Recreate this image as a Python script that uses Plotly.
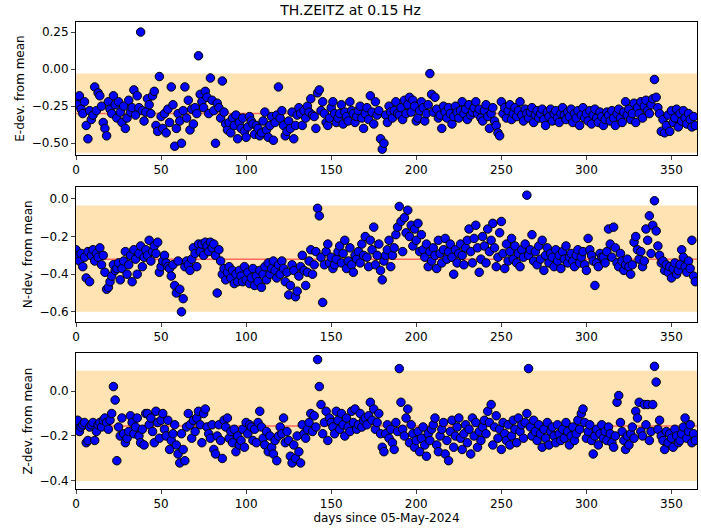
import plotly.graph_objects as go

E = [-0.20,-0.24,-0.18,-0.27,-0.30,-0.22,-0.38,-0.47,-0.28,-0.34,
-0.31,-0.12,-0.28,-0.16,-0.18,-0.25,-0.36,-0.40,-0.45,-0.22,
-0.27,-0.30,-0.18,-0.24,-0.33,-0.22,-0.29,-0.36,-0.25,-0.40,
-0.33,-0.21,-0.29,-0.26,-0.14,-0.31,-0.18,-0.26,0.25,-0.28,
-0.35,-0.29,-0.20,-0.24,-0.30,-0.18,-0.15,-0.38,-0.42,-0.05,
-0.32,-0.40,-0.30,-0.43,-0.27,-0.36,-0.12,-0.24,-0.52,-0.40,
-0.30,-0.35,-0.50,-0.28,-0.12,-0.33,-0.21,-0.41,-0.27,-0.37,
-0.26,-0.30,0.09,-0.17,-0.22,-0.26,-0.15,-0.19,-0.30,-0.06,
-0.21,-0.28,-0.50,-0.23,-0.26,-0.33,-0.08,-0.29,-0.37,-0.41,
-0.36,-0.43,-0.33,-0.38,-0.31,-0.47,-0.36,-0.40,-0.33,-0.42,
-0.46,-0.39,-0.32,-0.35,-0.37,-0.44,-0.38,-0.40,-0.45,-0.43,
-0.35,-0.29,-0.41,-0.46,-0.38,-0.32,-0.48,-0.36,-0.31,-0.12,
-0.33,-0.28,-0.38,-0.45,-0.42,-0.35,-0.40,-0.29,-0.47,-0.38,
-0.31,-0.26,-0.30,-0.38,-0.28,-0.33,-0.25,-0.29,-0.20,-0.31,
-0.32,-0.40,-0.16,-0.14,-0.28,-0.22,-0.30,-0.36,-0.38,-0.33,
-0.26,-0.22,-0.30,-0.36,-0.33,-0.30,-0.24,-0.37,-0.29,-0.32,
-0.35,-0.22,-0.28,-0.30,-0.36,-0.32,-0.28,-0.25,-0.33,-0.40,
-0.30,-0.26,-0.34,-0.18,-0.29,-0.37,-0.22,-0.31,-0.28,-0.47,
-0.54,-0.50,-0.31,-0.36,-0.25,-0.29,-0.33,-0.28,-0.22,-0.30,
-0.31,-0.26,-0.34,-0.21,-0.30,-0.24,-0.19,-0.29,-0.21,-0.25,
-0.35,-0.33,-0.28,-0.22,-0.26,-0.35,-0.30,-0.24,-0.03,-0.17,
-0.29,-0.19,-0.27,-0.33,-0.31,-0.40,-0.25,-0.29,-0.33,-0.26,
-0.30,-0.37,-0.32,-0.25,-0.29,-0.33,-0.28,-0.22,-0.30,-0.27,
-0.34,-0.24,-0.31,-0.29,-0.26,-0.22,-0.30,-0.27,-0.33,-0.35,
-0.28,-0.24,-0.32,-0.40,-0.30,-0.26,-0.35,-0.38,-0.43,-0.45,
-0.22,-0.30,-0.26,-0.33,-0.28,-0.24,-0.34,-0.30,-0.26,-0.32,
-0.28,-0.22,-0.31,-0.35,-0.27,-0.30,-0.33,-0.29,-0.26,-0.36,
-0.31,-0.28,-0.33,-0.30,-0.27,-0.34,-0.38,-0.29,-0.32,-0.27,
-0.35,-0.30,-0.28,-0.33,-0.36,-0.30,-0.26,-0.31,-0.34,-0.29,
-0.32,-0.27,-0.36,-0.30,-0.33,-0.28,-0.38,-0.31,-0.26,-0.33,
-0.30,-0.35,-0.28,-0.37,-0.31,-0.27,-0.33,-0.36,-0.29,-0.32,
-0.38,-0.34,-0.29,-0.31,-0.35,-0.28,-0.33,-0.38,-0.30,-0.27,
-0.33,-0.36,-0.29,-0.22,-0.31,-0.27,-0.34,-0.30,-0.23,-0.36,
-0.26,-0.30,-0.22,-0.33,-0.25,-0.21,-0.28,-0.30,-0.24,-0.20,
-0.07,-0.19,-0.26,-0.30,-0.42,-0.34,-0.43,-0.38,-0.31,-0.42,
-0.28,-0.36,-0.33,-0.27,-0.39,-0.30,-0.35,-0.28,-0.33,-0.37,
-0.30,-0.34,-0.39,-0.32,-0.38]

N = [-0.27,-0.30,-0.33,-0.29,-0.36,-0.31,-0.42,-0.28,-0.44,-0.30,
-0.27,-0.33,-0.29,-0.31,-0.26,-0.35,-0.30,-0.39,-0.48,-0.47,
-0.44,-0.41,-0.35,-0.38,-0.37,-0.34,-0.43,-0.37,-0.33,-0.28,
-0.40,-0.35,-0.30,-0.44,-0.27,-0.32,-0.40,-0.29,-0.25,-0.36,
-0.31,-0.27,-0.30,-0.22,-0.33,-0.28,-0.25,-0.29,-0.23,-0.39,
-0.36,-0.33,-0.30,-0.34,-0.36,-0.37,-0.41,-0.35,-0.46,-0.50,
-0.33,-0.48,-0.60,-0.53,-0.36,-0.33,-0.35,-0.38,-0.32,-0.26,
-0.29,-0.36,-0.24,-0.28,-0.24,-0.30,-0.23,-0.25,-0.28,-0.23,
-0.26,-0.24,-0.30,-0.50,-0.27,-0.33,-0.40,-0.37,-0.43,-0.39,
-0.36,-0.42,-0.38,-0.45,-0.40,-0.44,-0.38,-0.41,-0.44,-0.36,
-0.43,-0.39,-0.45,-0.42,-0.37,-0.46,-0.41,-0.44,-0.38,-0.47,
-0.40,-0.36,-0.43,-0.34,-0.40,-0.37,-0.33,-0.38,-0.42,-0.35,
-0.40,-0.33,-0.37,-0.44,-0.39,-0.51,-0.46,-0.35,-0.38,-0.52,
-0.49,-0.41,-0.36,-0.30,-0.38,-0.46,-0.39,-0.33,-0.27,-0.40,
-0.35,-0.28,-0.05,-0.09,-0.31,-0.55,-0.35,-0.28,-0.24,-0.34,
-0.31,-0.37,-0.35,-0.32,-0.28,-0.25,-0.34,-0.29,-0.22,-0.37,
-0.33,-0.26,-0.35,-0.39,-0.30,-0.32,-0.28,-0.34,-0.24,-0.30,
-0.20,-0.31,-0.36,-0.22,-0.27,-0.15,-0.35,-0.30,-0.24,-0.38,
-0.43,-0.33,-0.30,-0.27,-0.22,-0.36,-0.30,-0.26,-0.19,-0.15,
-0.04,-0.12,-0.28,-0.10,-0.18,-0.06,-0.20,-0.14,-0.25,-0.16,
-0.22,-0.13,-0.28,-0.19,-0.27,-0.31,-0.24,-0.36,-0.28,-0.33,
-0.26,-0.30,-0.37,-0.22,-0.29,-0.34,-0.27,-0.21,-0.32,-0.28,
-0.24,-0.31,-0.40,-0.27,-0.34,-0.29,-0.24,-0.30,-0.35,-0.26,
-0.22,-0.16,-0.28,-0.34,-0.21,-0.14,-0.26,-0.39,-0.32,-0.20,
-0.25,-0.34,-0.16,-0.28,-0.22,-0.13,-0.26,-0.36,-0.31,-0.18,
-0.12,-0.29,-0.37,-0.24,-0.33,-0.28,-0.21,-0.32,-0.25,-0.34,
-0.29,-0.36,-0.27,-0.31,-0.24,0.02,-0.30,-0.27,-0.19,-0.33,
-0.28,-0.35,-0.25,-0.32,-0.22,-0.38,-0.30,-0.26,-0.34,-0.29,
-0.31,-0.36,-0.27,-0.33,-0.30,-0.37,-0.28,-0.32,-0.25,-0.34,
-0.31,-0.29,-0.33,-0.36,-0.30,-0.27,-0.34,-0.31,-0.28,-0.35,
-0.38,-0.21,-0.27,-0.30,-0.33,-0.46,-0.34,-0.36,-0.29,-0.31,
-0.31,-0.34,-0.28,-0.16,-0.24,-0.31,-0.15,-0.26,-0.34,-0.36,
-0.29,-0.33,-0.38,-0.35,-0.32,-0.36,-0.40,-0.35,-0.23,-0.20,
-0.27,-0.32,-0.28,-0.36,-0.33,-0.16,-0.22,-0.09,-0.29,-0.14,
-0.01,-0.17,-0.25,-0.30,-0.34,-0.33,-0.38,-0.35,-0.39,-0.36,
-0.42,-0.37,-0.34,-0.40,-0.38,-0.35,-0.27,-0.31,-0.36,-0.39,
-0.33,-0.37,-0.22,-0.41,-0.44]

Z = [-0.15,-0.13,-0.18,-0.16,-0.15,-0.14,-0.23,-0.22,-0.16,-0.15,
-0.14,-0.22,-0.18,-0.15,-0.14,-0.16,-0.13,-0.12,-0.14,-0.17,
-0.13,-0.10,0.02,-0.04,-0.31,-0.16,-0.20,-0.12,-0.19,-0.23,
-0.21,-0.18,-0.11,-0.14,-0.19,-0.16,-0.12,-0.20,-0.23,-0.17,
-0.24,-0.10,-0.10,-0.15,-0.12,-0.18,-0.23,-0.09,-0.14,-0.21,
-0.13,-0.10,-0.17,-0.20,-0.13,-0.26,-0.22,-0.19,-0.15,-0.24,
-0.28,-0.32,-0.19,-0.26,-0.31,-0.16,-0.10,-0.15,-0.21,-0.13,
-0.18,-0.12,-0.09,-0.15,-0.23,-0.10,-0.08,-0.16,-0.19,-0.21,
-0.15,-0.26,-0.28,-0.20,-0.15,-0.22,-0.30,-0.13,-0.16,-0.12,
-0.21,-0.18,-0.23,-0.17,-0.27,-0.20,-0.24,-0.22,-0.17,-0.25,
-0.14,-0.19,-0.15,-0.16,-0.22,-0.17,-0.23,-0.14,-0.09,-0.16,
-0.21,-0.24,-0.18,-0.27,-0.20,-0.25,-0.28,-0.22,-0.31,-0.20,
-0.16,-0.19,-0.12,-0.23,-0.18,-0.22,-0.29,-0.32,-0.24,-0.30,
-0.20,-0.27,-0.32,-0.15,-0.19,-0.21,-0.17,-0.14,-0.10,-0.18,
-0.11,-0.16,0.14,0.02,-0.06,-0.19,-0.14,-0.09,-0.22,-0.12,
-0.14,-0.16,-0.19,-0.09,-0.13,-0.17,-0.10,-0.15,-0.20,-0.12,
-0.16,-0.18,-0.09,-0.14,-0.08,-0.17,-0.15,-0.10,-0.16,-0.13,
-0.12,-0.15,-0.11,-0.05,-0.13,-0.08,-0.17,-0.14,-0.10,-0.19,
-0.25,-0.27,-0.19,-0.15,-0.21,-0.17,-0.23,-0.26,-0.14,-0.18,
0.10,-0.05,-0.17,-0.20,-0.12,-0.08,-0.23,-0.15,-0.19,-0.25,
-0.22,-0.18,-0.27,-0.21,-0.16,-0.24,-0.29,-0.19,-0.22,-0.17,
-0.15,-0.12,-0.24,-0.27,-0.20,-0.17,-0.14,-0.28,-0.22,-0.31,
-0.18,-0.13,-0.25,-0.20,-0.16,-0.12,-0.21,-0.26,-0.19,-0.15,
-0.23,-0.17,-0.28,-0.12,-0.20,-0.14,-0.25,-0.18,-0.22,-0.16,
-0.13,-0.19,-0.09,-0.14,-0.06,-0.24,-0.16,-0.11,-0.21,-0.17,
-0.26,-0.14,-0.19,-0.22,-0.15,-0.24,-0.20,-0.13,-0.17,-0.23,
-0.12,-0.18,-0.15,-0.21,-0.14,-0.10,0.10,-0.16,-0.20,-0.13,
-0.18,-0.22,-0.15,-0.19,-0.25,-0.17,-0.21,-0.14,-0.24,-0.18,
-0.16,-0.20,-0.23,-0.15,-0.19,-0.22,-0.17,-0.21,-0.14,-0.18,
-0.24,-0.20,-0.16,-0.22,-0.19,-0.13,-0.17,-0.10,-0.08,-0.14,
-0.21,-0.18,-0.15,-0.22,-0.28,-0.20,-0.17,-0.24,-0.19,-0.15,
-0.21,-0.18,-0.22,-0.16,-0.19,-0.23,-0.25,-0.20,-0.05,-0.02,
-0.14,-0.18,-0.22,-0.26,-0.20,-0.24,-0.19,-0.16,-0.21,-0.09,
-0.12,-0.05,-0.18,-0.20,-0.06,-0.15,-0.06,-0.22,-0.18,-0.06,
0.11,0.04,-0.17,-0.13,-0.20,-0.22,-0.26,-0.18,-0.23,-0.19,
-0.21,-0.25,-0.17,-0.20,-0.23,-0.22,-0.19,-0.16,-0.12,-0.21,
-0.18,-0.15,-0.23,-0.19,-0.22]

E_MEAN, E_BAND = -0.30, (-0.565, -0.03)
N_MEAN, N_BAND = -0.32, (-0.60, -0.035)
Z_MEAN, Z_BAND = -0.155, (-0.40, 0.09)

days = list(range(len(E)))
series = [(E, E_MEAN, E_BAND, "E-dev. from mean", [-0.58, 0.318], [-0.5, -0.25, 0.0, 0.25]),
          (N, N_MEAN, N_BAND, "N-dev. from mean", [-0.653, 0.064], [-0.6, -0.4, -0.2, 0.0]),
          (Z, Z_MEAN, Z_BAND, "Z-dev. from mean", [-0.436, 0.169], [-0.4, -0.2, 0.0])]

domains = [[0.715, 1.0], [0.358, 0.647], [0.0, 0.291]]
fig = go.Figure()
shapes = []
font = dict(family="DejaVu Sans", size=12, color="black")
for i, (vals, m, band, label, rng, ticks) in enumerate(series):
    k = "" if i == 0 else str(i + 1)
    fig.add_trace(go.Scatter(x=days, y=vals, mode="markers", xaxis="x" + k, yaxis="y" + k,
                             marker=dict(color="blue", size=8.5, line=dict(color="black", width=1)),
                             showlegend=False))
    shapes.append(dict(type="rect", xref="x" + k + " domain", yref="y" + k, x0=0, x1=1,
                       y0=band[0], y1=band[1], fillcolor="#FFE3B3", line_width=0, layer="below"))
    shapes.append(dict(type="line", xref="x" + k + " domain", yref="y" + k, x0=0, x1=1,
                       y0=m, y1=m, line=dict(color="#FF6A5E", width=1.5), layer="below"))
    ax = dict(range=[0, 365], tickvals=[0, 50, 100, 150, 200, 250, 300, 350], showgrid=False,
              zeroline=False, showline=True, mirror=True, linecolor="black", ticks="outside",
              ticklen=4, tickfont=font, anchor="y" + k, automargin=False)
    if i == 2:
        ax["title"] = dict(text="days since 05-May-2024", font=font, standoff=2)
    ay = dict(range=rng, tickvals=ticks, tickformat=".2f" if i == 0 else ".1f", showgrid=False,
              zeroline=False, showline=True, mirror=True, linecolor="black", ticks="outside",
              ticklen=4, tickfont=font, domain=domains[i], anchor="x" + k, automargin=False,
              title=dict(text=label, font=font, standoff=4))
    fig.layout["xaxis" + k] = ax
    fig.layout["yaxis" + k] = ay

fig.update_layout(width=701, height=531, margin=dict(l=76, r=4, t=22, b=42),
                  plot_bgcolor="white", paper_bgcolor="white", shapes=shapes,
                  title=dict(text="TH.ZEITZ at 0.15 Hz", x=0.5, xanchor="center", y=0.99,
                             yanchor="top", font=dict(family="DejaVu Sans", size=14, color="black")))
fig.write_html("out.html", config={"displayModeBar": False},
               post_script="document.body.style.margin='0';document.body.style.overflow='hidden';")
